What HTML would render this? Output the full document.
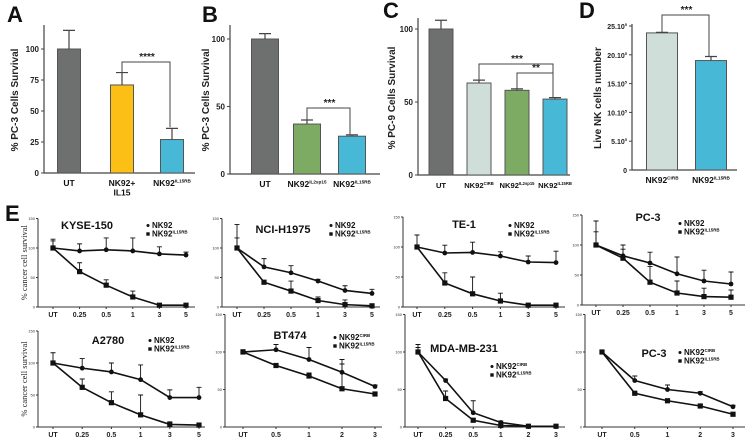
<!DOCTYPE html>
<html><head><meta charset="utf-8"><style>
html,body{margin:0;padding:0;background:#fff;width:753px;height:439px;overflow:hidden}
svg{display:block;font-family:"Liberation Sans",Arial,sans-serif}
</style></head><body>
<svg id="fig" width="753" height="439" viewBox="0 0 753 439" xmlns="http://www.w3.org/2000/svg"></svg>
<script>
// ---------- Bar panel data ----------
const aCats = ["UT", "NK92+|IL15", "NK92^IL15RB"];
const aVals = [100, 71, 27];
const aErrs = [115, 81, 36];
const aTicks = [0, 25, 50, 75, 100];
const bCats = ["UT", "NK92^IL2sp15", "NK92^IL15RB"];
const bVals = [100, 37, 28];
const bErrs = [104, 40, 29];
const bTicks = [0, 50, 100];
const cCats = ["UT", "NK92^CIRB", "NK92^IL2sp15", "NK92^IL15RB"];
const cVals = [100, 63, 58, 52];
const cErrs = [106, 65, 59, 53];
const cTicks = [0, 50, 100];
const dCats = ["NK92^CIRB", "NK92^IL15RB"];
const dVals = [23.8, 19.0];
const dErrs = [23.9, 19.7];
const dTicks = [0, 5, 10, 15, 20, 25];
// ---------- Line panel data ----------
const xDose6 = ["UT", "0.25", "0.5", "1", "3", "5"];
const xDose5 = ["UT", "0.5", "1", "2", "3"];
const xDoseMda = ["UT", "0.25", "0.5", "1", "2", "3"];
const kyseNk = [100, 95, 97, 95, 90, 88];
const kyseNkErr = [115, 107, 117, 117, 102, 93];
const kyseRb = [100, 60, 37, 17, 3, 3];
const kyseRbErr = [112, 75, 46, 27, 5, 6];
const nciNk = [100, 68, 58, 44, 28, 23];
const nciNkErr = [140, 82, 70, 47, 36, 30];
const nciRb = [100, 42, 27, 11, 4, 2];
const nciRbErr = [117, 45, 44, 17, 12, 4];
const te1Nk = [100, 90, 91, 85, 75, 74];
const te1NkErr = [120, 103, 108, 92, 85, 93];
const te1Rb = [100, 40, 22, 10, 3, 3];
const te1RbErr = [103, 57, 50, 23, 5, 6];
const pc3Nk = [100, 82, 70, 52, 40, 35];
const pc3NkErr = [140, 100, 88, 80, 58, 55];
const pc3Rb = [100, 78, 38, 20, 14, 13];
const pc3RbErr = [122, 93, 64, 40, 28, 25];
const a27Nk = [100, 92, 86, 74, 46, 46];
const a27NkErr = [116, 107, 100, 97, 58, 62];
const a27Rb = [100, 62, 38, 19, 4, 3];
const a27RbErr = [102, 75, 55, 50, 8, 5];
const btCirb = [100, 103, 90, 73, 54];
const btCirbErr = [103, 110, 106, 90, 56];
const btRb = [100, 82, 68, 51, 44];
const btRbErr = [101, 84, 72, 84, 46];
const mdaCirb = [100, 62, 19, 6, 1, 1];
const mdaCirbErr = [110, 64, 35, 8, 2, 2];
const mdaRb = [100, 38, 9, 2, 1, 1];
const mdaRbErr = [106, 48, 11, 3, 2, 2];
const pcbCirb = [100, 62, 50, 45, 27];
const pcbCirbErr = [101, 68, 56, 47, 29];
const pcbRb = [100, 45, 35, 28, 17];
const pcbRbErr = [101, 46, 37, 29, 18];

const NS = "http://www.w3.org/2000/svg";
const fig = document.getElementById("fig");
function el(tag, attrs, parent, text) {
  const e = document.createElementNS(NS, tag);
  for (const k in attrs) e.setAttribute(k, attrs[k]);
  if (text !== undefined) e.textContent = text;
  (parent || fig).appendChild(e);
  return e;
}
function lin(d0, d1, r0, r1) { return v => r0 + (v - d0) * (r1 - r0) / (d1 - d0); }
function labelText(g, x, y, s, size, anchor) {
  const lines = s.split("|");
  lines.forEach((ln, i) => {
    const t = el("text", {x: x, y: y + i * (size + 1), "font-size": size, "font-weight": "bold", "text-anchor": anchor || "middle", fill: "#111"}, g);
    const parts = ln.split("^");
    el("tspan", {}, t, parts[0]);
    if (parts[1]) el("tspan", {"font-size": size * 0.55, dy: -size * 0.4}, t, parts[1]);
  });
}
function letter(x, y, s) {
  const t = el("text", {x: x, y: y, "font-size": 22, "font-weight": "bold", fill: "#111"}, fig, s);
  
  
}

function barPanel(o) {
  const g = el("g", {});
  
  
  const y = lin(0, o.ymaxv, o.y0, o.y100);
  const ax = el("path", {d: `M${o.ax} ${o.top}V${o.y0}H${o.right}`, stroke: "#444", "stroke-width": 1.2, fill: "none"}, g);
  
  
  o.ticks.forEach(t => {
    el("line", {x1: o.ax - 3, x2: o.ax, y1: y(t), y2: y(t), stroke: "#444", "stroke-width": 1}, g);
    const lab = el("text", {x: o.ax - 5, y: y(t) + 3, "font-size": o.tickSize || 8, "font-weight": "bold", "text-anchor": "end", fill: "#222"}, g);
    
    
    if (o.sci) { el("tspan", {}, lab, t === 0 ? "0" : t + ".10"); if (t) el("tspan", {"font-size": 4, dy: -3}, lab, "5"); }
    else lab.textContent = t;
  });
  o.cats.forEach((c, i) => {
    const cx = o.xs[i];
    const bar = el("rect", {x: cx - o.bw / 2, y: y(o.vals[i]), width: o.bw, height: o.y0 - y(o.vals[i]), fill: o.colors[i], stroke: "#555", "stroke-width": 1}, g);
    
    
    const eb = el("path", {d: `M${cx} ${y(o.vals[i])}V${y(o.errs[i])}M${cx - 6} ${y(o.errs[i])}H${cx + 6}`, stroke: "#444", "stroke-width": 1.2, fill: "none"}, g);
    
    
    labelText(g, cx, o.y0 + 13, c, o.catSize || 8.5);
  });
  const yl = el("text", {transform: `translate(${o.ylx},${o.yly}) rotate(-90)`, "font-size": o.ylSize || 10, "font-weight": "bold", "text-anchor": "middle", fill: "#222"}, g, o.ylabel);
  
  
  (o.sig || []).forEach(s => {
    const br = el("path", {d: `M${o.xs[s.a]} ${y(s.ya)}V${s.y}H${o.xs[s.b] - 2}V${y(s.yb)}`, stroke: "#444", "stroke-width": 1, fill: "none"}, g);
    
    
    const st = el("text", {x: (o.xs[s.a] + o.xs[s.b]) / 2, y: s.y - 2, "font-size": 10, "font-weight": "bold", "text-anchor": "middle", fill: "#222"}, g, s.stars);
    
    
  });
}

letter(7, 22, "A");
barPanel({name: "panel-a", cats: aCats, vals: aVals, errs: aErrs, ticks: aTicks, ymaxv: 100, y0: 173, y100: 49, top: 25, ax: 44, right: 195, xs: [69, 122, 172], bw: 23, colors: ["#6e6f6f", "#fbbf16", "#47b9d7"], ylabel: "% PC-3 Cells Survival", ylx: 18, yly: 100, sig: [{a: 1, b: 2, y: 62, ya: 81, yb: 37, stars: "****"}]});
letter(202, 22, "B");
barPanel({name: "panel-b", cats: bCats, vals: bVals, errs: bErrs, ticks: bTicks, ymaxv: 100, y0: 174, y100: 39, top: 25, ax: 230, right: 380, xs: [265, 307, 352], bw: 27, colors: ["#6e6f6f", "#7eab63", "#47b9d7"], ylabel: "% PC-3 Cells Survival", ylx: 209, yly: 100, sig: [{a: 1, b: 2, y: 108, ya: 40, yb: 29, stars: "***"}]});
letter(383, 18, "C");
barPanel({name: "panel-c", cats: cCats, vals: cVals, errs: cErrs, ticks: cTicks, ymaxv: 100, y0: 175, y100: 29, top: 18, ax: 418, right: 570, xs: [441, 479, 517, 555], bw: 24, catSize: 7.6, colors: ["#6e6f6f", "#cfded8", "#7eab63", "#47b9d7"], ylabel: "% PC-9 Cells Survival", ylx: 395, yly: 98, sig: [{a: 1, b: 3, y: 64, ya: 65, yb: 53, stars: "***"}, {a: 2, b: 3, y: 73, ya: 59, yb: 53, stars: "**"}]});
letter(579, 18, "D");
barPanel({name: "panel-d", cats: dCats, vals: dVals, errs: dErrs, ticks: dTicks, ymaxv: 25, y0: 170, y100: 26, top: 24, ax: 632, right: 737, xs: [662, 711], bw: 31, colors: ["#cfded8", "#47b9d7"], ylabel: "Live NK cells number", ylx: 601, yly: 98, sci: true, tickSize: 7, sig: [{a: 0, b: 1, y: 15, ya: 23.9, yb: 19.7, stars: "***"}]});
letter(5, 221, "E");

function linePanel(o) {
  const g = el("g", {});
  
  
  const y = lin(0, 100, o.y0, o.y100);
  const top = y(150);
  const ax = el("path", {d: `M${o.ax} ${top}V${o.y0}H${o.right}`, stroke: "#333", "stroke-width": 1, fill: "none"}, g);
  
  
  [0, 50, 100, 150].forEach(t => {
    el("line", {x1: o.ax - 2, x2: o.ax, y1: y(t), y2: y(t), stroke: "#333", "stroke-width": 1}, g);
    const tl = el("text", {x: o.ax - 3, y: y(t) + 1.5, "font-size": 4, "text-anchor": "end", fill: "#333"}, g, t);
    
    
  });
  const x = i => o.x0 + i * (o.x1 - o.x0) / (o.cats.length - 1);
  o.cats.forEach((c, i) => {
    el("line", {x1: x(i), x2: x(i), y1: o.y0, y2: o.y0 + 2, stroke: "#333"}, g);
    const xl = el("text", {x: x(i), y: o.y0 + 10, "font-size": 7, "font-weight": "bold", "text-anchor": "middle", fill: "#222"}, g, c);
    
    
  });
  o.series.forEach((s, si) => {
    const pts = s.v.map((v, i) => `${x(i)},${y(v)}`).join(" ");
    const ln = el("polyline", {points: pts, fill: "none", stroke: "#111", "stroke-width": 1.6}, g);
    
    
    s.v.forEach((v, i) => {
      const eb = el("path", {d: `M${x(i)} ${y(v)}V${y(s.e[i])}M${x(i) - 2.5} ${y(s.e[i])}H${x(i) + 2.5}`, stroke: "#111", "stroke-width": 0.9, fill: "none"}, g);
      
      
      let m;
      if (s.sq) m = el("rect", {x: x(i) - 2.6, y: y(v) - 2.6, width: 5.2, height: 5.2, fill: "#111"}, g);
      else m = el("circle", {cx: x(i), cy: y(v), r: 2.4, fill: "#111"}, g);
      
      
    });
  });
  const tt = el("text", {x: o.tx, y: o.ty, "font-size": 11, "font-weight": "bold", "text-anchor": "middle", fill: "#111"}, g, o.title);
  
  
  o.legend.forEach((L, i) => {
    const ly = o.ly + i * 8.5;
    const le = el("g", {}, g);
    
    
    if (i === 0) el("circle", {cx: o.lx, cy: ly - 2.5, r: 1.5, fill: "#111"}, le);
    else el("rect", {x: o.lx - 1.7, y: ly - 4.2, width: 3.4, height: 3.4, fill: "#111"}, le);
    labelText(le, o.lx + 4, ly, L, 8, "start");
  });
  if (o.ylabel) {
    const yl = el("text", {transform: `translate(${o.ax - 11},${(top + o.y0) / 2}) rotate(-90)`, "font-size": 8.5, "font-family": "'Liberation Serif',serif", "text-anchor": "middle", fill: "#222"}, g, "% cancer cell survival");
    
    
  }
}
const L1 = ["NK92", "NK92^IL15RB"], L2 = ["NK92^CIRB", "NK92^IL15RB"];
linePanel({name: "panel-e-kyse150", cats: xDose6, series: [{v: kyseNk, e: kyseNkErr}, {v: kyseRb, e: kyseRbErr, sq: 1}], ax: 38, right: 195, x0: 53, x1: 186, y0: 307, y100: 248, title: "KYSE-150", tx: 87, ty: 229, legend: L1, lx: 148, ly: 228, ylabel: 1});
linePanel({name: "panel-e-nci-h1975", cats: xDose6, series: [{v: nciNk, e: nciNkErr}, {v: nciRb, e: nciRbErr, sq: 1}], ax: 222, right: 380, x0: 237, x1: 372, y0: 307, y100: 248, title: "NCI-H1975", tx: 283, ty: 233, legend: L1, lx: 331, ly: 228});
linePanel({name: "panel-e-te1", cats: xDose6, series: [{v: te1Nk, e: te1NkErr}, {v: te1Rb, e: te1RbErr, sq: 1}], ax: 403, right: 565, x0: 417, x1: 556, y0: 307, y100: 247, title: "TE-1", tx: 464, ty: 228, legend: L1, lx: 510, ly: 228});
linePanel({name: "panel-e-pc3-top", cats: xDose6, series: [{v: pc3Nk, e: pc3NkErr}, {v: pc3Rb, e: pc3RbErr, sq: 1}], ax: 582, right: 745, x0: 596, x1: 731, y0: 305, y100: 245, title: "PC-3", tx: 648, ty: 221, legend: L1, lx: 680, ly: 226});
linePanel({name: "panel-e-a2780", cats: xDose6, series: [{v: a27Nk, e: a27NkErr}, {v: a27Rb, e: a27RbErr, sq: 1}], ax: 38, right: 205, x0: 53, x1: 199, y0: 427, y100: 363, title: "A2780", tx: 108, ty: 344, legend: L1, lx: 150, ly: 343, ylabel: 1});
linePanel({name: "panel-e-bt474", cats: xDose5, series: [{v: btCirb, e: btCirbErr}, {v: btRb, e: btRbErr, sq: 1}], ax: 225, right: 382, x0: 243, x1: 375, y0: 427, y100: 352, title: "BT474", tx: 290, ty: 339, legend: L2, lx: 335, ly: 340});
linePanel({name: "panel-e-mda-mb-231", cats: xDoseMda, series: [{v: mdaCirb, e: mdaCirbErr}, {v: mdaRb, e: mdaRbErr, sq: 1}], ax: 405, right: 565, x0: 418, x1: 556, y0: 427, y100: 352, title: "MDA-MB-231", tx: 464, ty: 352, legend: L2, lx: 492, ly: 369});
linePanel({name: "panel-e-pc3-bottom", cats: xDose5, series: [{v: pcbCirb, e: pcbCirbErr}, {v: pcbRb, e: pcbRbErr, sq: 1}], ax: 585, right: 745, x0: 602, x1: 733, y0: 427, y100: 352, title: "PC-3", tx: 654, ty: 357, legend: L2, lx: 680, ly: 355});
</script>
</body></html>
